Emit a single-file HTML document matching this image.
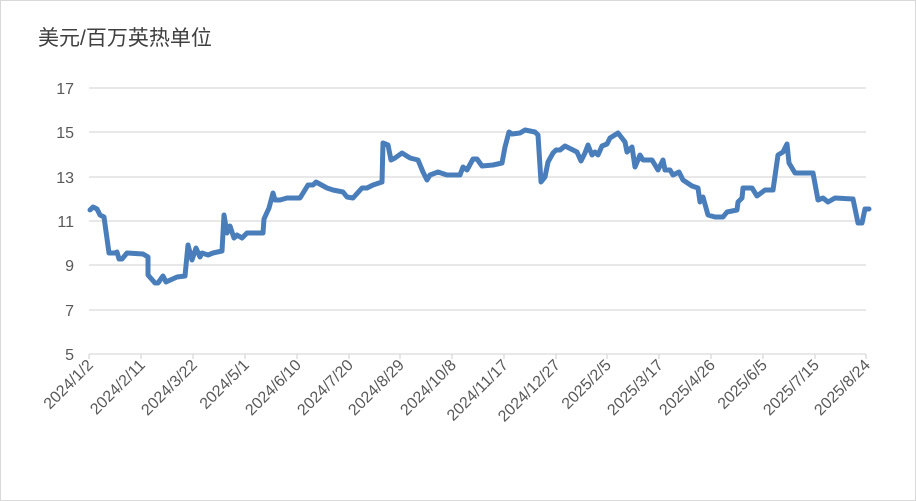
<!DOCTYPE html>
<html><head><meta charset="utf-8"><style>
body{margin:0;background:#fff}
svg{display:block}
text{font-family:"Liberation Sans","Noto Sans CJK SC",sans-serif;fill:#595959}
</style></head><body>
<svg width="916" height="501" viewBox="0 0 916 501">
<rect x="0.5" y="0.5" width="915" height="500" fill="#fff" stroke="#d9d9d9"/>
<text x="38" y="45" font-size="21" style="fill:#404040">美元/百万英热单位</text>
<g stroke="#d9d9d9" stroke-width="1.3">
<line x1="89" x2="866" y1="88" y2="88"/>
<line x1="89" x2="866" y1="132" y2="132"/>
<line x1="89" x2="866" y1="177" y2="177"/>
<line x1="89" x2="866" y1="221" y2="221"/>
<line x1="89" x2="866" y1="265" y2="265"/>
<line x1="89" x2="866" y1="310" y2="310"/>
<line x1="89" x2="866" y1="354" y2="354"/>
</g>
<g stroke="#d9d9d9" stroke-width="1.3">
<line x1="89" x2="89" y1="354" y2="359"/><line x1="141" x2="141" y1="354" y2="359"/><line x1="193" x2="193" y1="354" y2="359"/><line x1="245" x2="245" y1="354" y2="359"/><line x1="297" x2="297" y1="354" y2="359"/><line x1="349" x2="349" y1="354" y2="359"/><line x1="400" x2="400" y1="354" y2="359"/><line x1="452" x2="452" y1="354" y2="359"/><line x1="504" x2="504" y1="354" y2="359"/><line x1="556" x2="556" y1="354" y2="359"/><line x1="607" x2="607" y1="354" y2="359"/><line x1="659" x2="659" y1="354" y2="359"/><line x1="711" x2="711" y1="354" y2="359"/><line x1="763" x2="763" y1="354" y2="359"/><line x1="815" x2="815" y1="354" y2="359"/><line x1="866" x2="866" y1="354" y2="359"/>
</g>
<g font-size="16" text-anchor="end">
<text x="74" y="94">17</text><text x="74" y="138">15</text><text x="74" y="183">13</text><text x="74" y="227">11</text><text x="74" y="271">9</text><text x="74" y="316">7</text><text x="74" y="360">5</text>
</g>
<g font-size="16" text-anchor="end">
<text transform="translate(94,366) rotate(-45)">2024/1/2</text>
<text transform="translate(146,366) rotate(-45)">2024/2/11</text>
<text transform="translate(198,366) rotate(-45)">2024/3/22</text>
<text transform="translate(250,366) rotate(-45)">2024/5/1</text>
<text transform="translate(302,366) rotate(-45)">2024/6/10</text>
<text transform="translate(354,366) rotate(-45)">2024/7/20</text>
<text transform="translate(405,366) rotate(-45)">2024/8/29</text>
<text transform="translate(457,366) rotate(-45)">2024/10/8</text>
<text transform="translate(509,366) rotate(-45)">2024/11/17</text>
<text transform="translate(561,366) rotate(-45)">2024/12/27</text>
<text transform="translate(612,366) rotate(-45)">2025/2/5</text>
<text transform="translate(664,366) rotate(-45)">2025/3/17</text>
<text transform="translate(716,366) rotate(-45)">2025/4/26</text>
<text transform="translate(768,366) rotate(-45)">2025/6/5</text>
<text transform="translate(820,366) rotate(-45)">2025/7/15</text>
<text transform="translate(871,366) rotate(-45)">2025/8/24</text>
</g>
<polyline fill="none" stroke="#4a7ebb" stroke-width="5" stroke-linejoin="round" stroke-linecap="round" points="
90,210 93,207 97,209 100,215 104,217 109,253 115,253 117,252 119,259 122,259 127,253 143,254 148,257 148,275 155,283 158,283 163,276 166,282 177,277 185,276 188,245 192,260 196,248 200,257 202,253 208,255 213,253 222,251 224,215 227,233 230,226 234,238 237,235 242,238 247,233 263,233 264,219 269,208 273,193 275,200 280,200 287,198 300,198 308,185 313,185 316,182 327,188 333,190 343,192 347,197 353,198 362,188 367,188 373,185 382,182 383,143 388,145 391,160 395,158 402,153 410,158 418,160 423,172 427,180 430,175 438,172 447,175 460,175 463,167 467,170 473,159 477,159 482,166 493,165 502,163 505,147 509,132 512,134 520,133 525,130 535,132 538,135 541,182 545,177 548,162 553,153 556,150 560,150 565,146 577,152 581,161 585,153 588,145 592,155 595,152 598,155 602,146 607,144 610,138 618,133 625,142 627,152 632,147 635,167 640,155 643,160 652,160 658,170 663,160 665,170 670,170 673,175 679,172 683,180 692,186 698,188 700,202 703,197 708,215 715,217 723,217 727,212 737,210 738,202 742,198 743,188 752,188 757,196 765,190 773,190 778,155 783,152 787,144 789,163 795,173 800,173 813,173 818,200 823,198 828,202 835,198 853,199 858,223 862,223 865,209 869,209"/>
</svg>
</body></html>
